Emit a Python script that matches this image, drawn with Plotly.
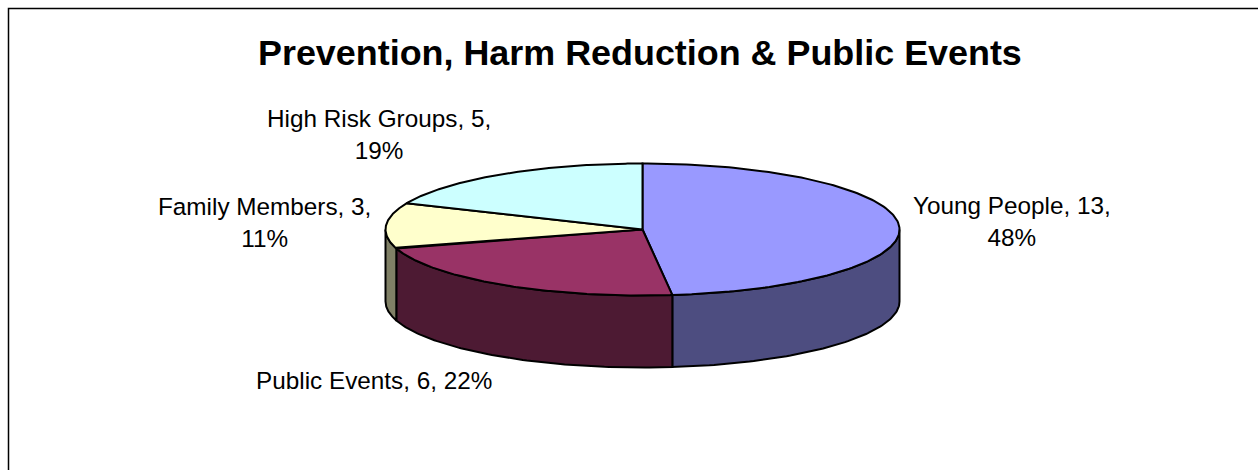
import numpy as np
import plotly.graph_objects as go

categories = ["Young People", "Public Events", "Family Members", "High Risk Groups"]
values = [13, 6, 3, 5]
top_colors = ["#9999FF", "#993366", "#FFFFCC", "#CCFFFF"]
side_colors = ["#4D4D80", "#4D1A33", "#808066", "#668080"]
label_text_breaks = [True, False, True, True]
label_pos = [(1011.5, 221), (374, 380), (264.5, 222), (379, 134)]

W, H = 1258, 470
CX, CY, RX, RY, DEPTH = 642.5, 229.5, 257, 66, 72
LINE = dict(color="#000000", width=2)


def ell(theta):
    """Angle clockwise from the top of the pie, degrees -> projected point."""
    t = np.radians(theta)
    return CX + RX * np.sin(t), CY - RY * np.cos(t)


fig = go.Figure()
total = sum(values)
edges = np.concatenate([[0], np.cumsum(values) / total * 360])

# side walls: only the front half of the disc (90..270 degrees) is visible
for i, v in enumerate(values):
    a, b = max(edges[i], 90), min(edges[i + 1], 270)
    if a >= b:
        continue
    th = np.linspace(a, b, 80)
    x, y = ell(th)
    fig.add_trace(go.Scatter(
        x=np.concatenate([x, x[::-1], x[:1]]),
        y=np.concatenate([y, y[::-1] + DEPTH, y[:1]]),
        mode="lines", fill="toself", fillcolor=side_colors[i], line=LINE,
        hoverinfo="skip", showlegend=False))

# top face
for i, v in enumerate(values):
    th = np.linspace(edges[i], edges[i + 1], 160)
    x, y = ell(th)
    fig.add_trace(go.Scatter(
        x=np.concatenate([[CX], x, [CX]]),
        y=np.concatenate([[CY], y, [CY]]),
        mode="lines", fill="toself", fillcolor=top_colors[i], line=LINE,
        name=categories[i], hoverinfo="name", showlegend=False))

# data labels
for c, v, br, (lx, ly) in zip(categories, values, label_text_breaks, label_pos):
    pct = round(v / total * 100)
    sep = ",<br>" if br else ", "
    fig.add_annotation(x=lx, y=ly, xref="x", yref="y", showarrow=False,
                       text=f"{c}, {v}{sep}{pct}%", align="center",
                       font=dict(family="Liberation Sans", size=24.3, color="#000000"))

fig.add_annotation(x=640, y=53, xref="x", yref="y", showarrow=False,
                   text="<b>Prevention, Harm Reduction &amp; Public Events</b>",
                   font=dict(family="Liberation Sans", size=35.9, color="#000000"))

# chart frame: runs off the right and bottom of the window
fig.add_shape(type="rect", x0=8.5, y0=8.5, x1=1400, y1=600, xref="x", yref="y",
              line=dict(color="#000000", width=1.5), layer="below")

fig.update_layout(
    width=W, height=H, margin=dict(l=0, r=0, t=0, b=0),
    paper_bgcolor="#FFFFFF", plot_bgcolor="#FFFFFF", showlegend=False,
    xaxis=dict(range=[0, W], visible=False, fixedrange=True),
    yaxis=dict(range=[H, 0], visible=False, fixedrange=True),
)
fig.write_html("out.html", post_script="document.body.style.margin='0';document.body.style.overflow='hidden';",
               config={"displayModeBar": False})
